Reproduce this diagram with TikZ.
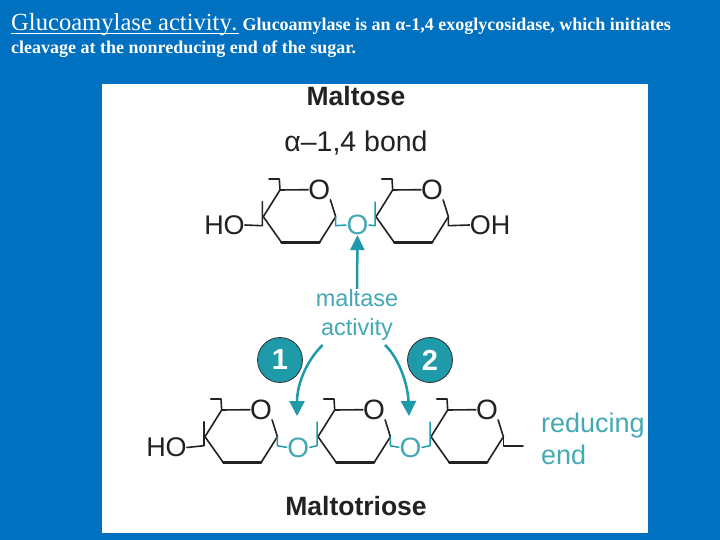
\documentclass[tikz,border=0pt]{standalone}
\usepackage{fontspec}
\setmainfont{Liberation Sans}
\newfontfamily\serifx{Liberation Serif}
\usetikzlibrary{arrows.meta}
\definecolor{slidebg}{HTML}{0070C0}
\definecolor{tealx}{HTML}{1F9AA8}
\definecolor{teallabel}{HTML}{45A9B5}
\definecolor{inkx}{HTML}{222222}
\tikzset{
  titletext/.style={anchor=base west,inner sep=0pt,text=white,font=\serifx},
  chem/.style={inner sep=0pt,text=inkx,font=\fontsize{27}{27}\selectfont},
  ringO/.style={inner sep=0pt,text=inkx,font=\fontsize{28}{28}\selectfont},
  linkO/.style={inner sep=0pt,text=teallabel,font=\fontsize{28}{28}\selectfont},
  heading/.style={inner sep=0pt,text=inkx,font=\fontsize{26.5}{26.5}\selectfont\bfseries},
  teallab/.style={inner sep=0pt,anchor=base,text=teallabel,font=\fontsize{23.5}{23.5}\selectfont},
  endlab/.style={inner sep=0pt,anchor=base west,text=teallabel,font=\fontsize{27}{27}\selectfont},
  bond/.style={draw=inkx,line width=1.6pt,line cap=round,line join=round},
  heavy/.style={draw=inkx,line width=3pt,line cap=round},
  linkbond/.style={draw=tealx,line width=1.5pt,line join=round},
  badge/.style={circle,draw=inkx,line width=0.7pt,fill=tealx,minimum size=45pt,inner sep=0pt,text=white,font=\fontsize{29}{29}\selectfont\bfseries},
  enzarrow/.style={draw=tealx,line width=2.5pt,-{Triangle[length=15pt,width=15pt]}}
}
\newcommand{\sugarring}[3]{%
  \begin{scope}[shift={(#2,#3)}]
    \node[ringO] (#1O) at (56,-27) {O};
    \coordinate (#1L) at (0,0);
    \coordinate (#1TL) at (16.7,-26.7);
    \coordinate (#1R) at (72.4,0);
    \coordinate (#1BR) at (56,26);
    \coordinate (#1BL) at (18.4,26);
    \coordinate (#1CA) at (16,-37.7);
    \coordinate (#1CB) at (5.7,-37.7);
    \coordinate (#1LU) at (-1,-15);
    \coordinate (#1LD) at (-1,9);
    \coordinate (#1RD) at (72.4,9);
    \draw[bond] (#1O.west) -- (#1TL) -- (#1L) -- (#1BL);
    \draw[heavy] (#1BL) -- (#1BR);
    \draw[bond] (#1BR) -- (#1R) -- (#1O.south east);
    \draw[bond] (#1TL) -- (#1CA) -- (#1CB);
  \end{scope}}
\begin{document}
\begin{tikzpicture}[x=1pt,y=-1pt]
\useasboundingbox (0,0) rectangle (720,540);
\fill[slidebg] (0,0) rectangle (720,540);
\fill[white] (102,84) rectangle (648,533);

% title
\node[titletext,font=\serifx\fontsize{24.6}{24.6}\selectfont] (tA) at (11,31) {Glucoamylase activity};
\coordinate (uA) at (11,33.5);
\coordinate (uB) at (239,33.5);
\draw[white,line width=1.1pt] (uA) -- (uB);
\node[titletext,font=\serifx\fontsize{18}{18}\selectfont\bfseries] (tB) at (tA.base east) {. Glucoamylase is an α-1,4 exoglycosidase, which initiates};
\node[titletext,font=\serifx\fontsize{18}{18}\selectfont\bfseries] (tC) at (11,54) {cleavage at the nonreducing end of the sugar.};

% headings
\node[heading] (hMaltose) at (356,96) {Maltose};
\node[chem,font=\fontsize{28.5}{28.5}\selectfont] (hBond) at (356,143) {α–1,4 bond};
\node[heading] (hTri) at (356,506) {Maltotriose};

% maltose
\sugarring{a}{263.3}{216.7}
\sugarring{b}{376}{216.7}
\node[chem] (aHO) at (224.5,225) {HO};
\node[chem] (bOH) at (490,225) {OH};
\node[linkO] (abO) at (357.5,225) {O};
\draw[bond] (aLU) -- (aLD) -- (aHO.east);
\draw[bond] (bR) -- (bRD) -- (bOH.west);
\draw[linkbond] (aR) -- (aRD) -- (abO.west);
\draw[linkbond] (abO.east) -- (bLD) -- (bLU);

% maltotriose
\sugarring{c}{205}{436.7}
\sugarring{d}{318}{436.7}
\sugarring{e}{431}{436.7}
\node[chem] (cHO) at (166.5,447.5) {HO};
\node[linkO] (cdO) at (298.3,447.5) {O};
\node[linkO] (deO) at (410.5,447.5) {O};
\coordinate (eEnd) at (523,445.7);
\draw[bond] (cLU) -- (cLD) -- (cHO.east);
\draw[bond] (eR) -- (eRD) -- (eEnd);
\draw[linkbond] (cR) -- (cRD) -- (cdO.west);
\draw[linkbond] (cdO.east) -- (dLD) -- (dLU);
\draw[linkbond] (dR) -- (dRD) -- (deO.west);
\draw[linkbond] (deO.east) -- (eLD) -- (eLU);

% enzyme
\node[teallab] (lMalt) at (357,306) {maltase};
\node[teallab] (lAct) at (357,335) {activity};
\draw[enzarrow,-{Triangle[length=15pt,width=14pt]}] (lMalt.north) -- (abO.south);
\node[badge] (b1) at (280,360) {1};
\node[badge] (b2) at (430,360) {2};
\coordinate (s1) at (322.7,345);
\coordinate (s2) at (385,345);
\coordinate (t1) at (297,416);
\coordinate (t2) at (409,416);
\draw[enzarrow] (s1) .. controls (306,361) and (297,385) .. (t1);
\draw[enzarrow] (s2) .. controls (399,358) and (408,385) .. (t2);

\node[endlab] (r1) at (541,432) {reducing};
\node[endlab] (r2) at (541,464) {end};
\end{tikzpicture}
\end{document}
